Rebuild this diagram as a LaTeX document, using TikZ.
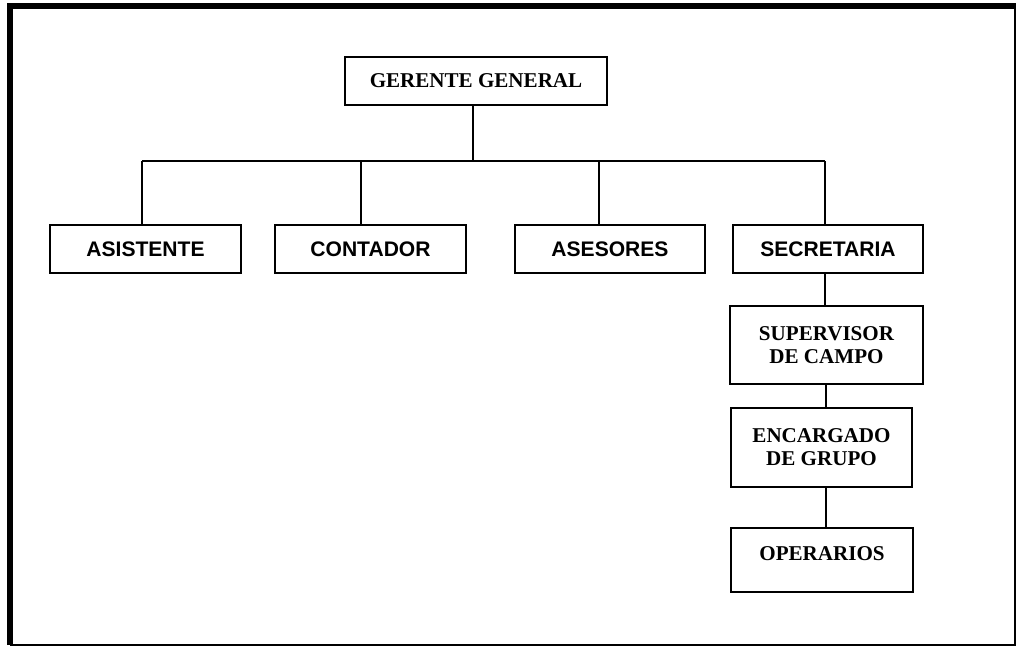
\documentclass[tikz,border=0pt]{standalone}
\usepackage{fontspec}
\newfontfamily\serifbold{Liberation Serif}
\newfontfamily\sansbold{Liberation Sans}
\begin{document}
\begin{tikzpicture}[x=0.75pt,y=-0.75pt,
  box/.style={draw=black,line width=1.5pt,rectangle,inner sep=0pt,align=center},
  rmbox/.style={box,font=\serifbold\bfseries\fontsize{15.8}{17.3}\selectfont},
  sfbox/.style={box,font=\sansbold\bfseries\fontsize{15.8}{17.3}\selectfont},
  link/.style={line width=1.5pt}]
\useasboundingbox (0,0) rectangle (1017,647);
% page frame: thin right and bottom, heavy top and left
\draw[line width=1.5pt] (10,645) -- (1015,645) -- (1015,6);
\draw[line width=4.5pt] (10,645) -- (10,6) -- (1016,6);

% boxes
\node[rmbox,minimum width=262*0.75pt,minimum height=48*0.75pt] (gg) at (476,81) {GERENTE GENERAL};
\node[sfbox,minimum width=191*0.75pt,minimum height=48*0.75pt] (asis) at (145.5,249) {ASISTENTE};
\node[sfbox,minimum width=191*0.75pt,minimum height=48*0.75pt] (cont) at (370.5,249) {CONTADOR};
\node[sfbox,minimum width=190*0.75pt,minimum height=48*0.75pt] (ases) at (610,249) {ASESORES};
\node[sfbox,minimum width=190*0.75pt,minimum height=48*0.75pt] (secr) at (828,249) {SECRETARIA};
\node[rmbox,minimum width=193*0.75pt,minimum height=78*0.75pt] (sup) at (826.5,345) {SUPERVISOR\\DE CAMPO};
\node[rmbox,minimum width=181*0.75pt,minimum height=79*0.75pt] (enc) at (821.5,447.5) {ENCARGADO\\DE GRUPO};
\node[rmbox,minimum width=182*0.75pt,minimum height=64*0.75pt,text height=10pt,text depth=10pt] (oper) at (822,560) {OPERARIOS};

% branch points on the horizontal bar
\coordinate (b1) at (142,161);
\coordinate (b2) at (361,161);
\coordinate (b3) at (599,161);
\coordinate (b4) at (825,161);
\coordinate (bg) at (473,161);

% connectors
\draw[link] (gg.south -| bg) -- (bg);
\draw[link] (b1) -- (b4);
\draw[link] (b1) -- (asis.north -| b1);
\draw[link] (b2) -- (cont.north -| b2);
\draw[link] (b3) -- (ases.north -| b3);
\draw[link] (b4) -- (secr.north -| b4);
\draw[link] (secr.south -| b4) -- (sup.north -| b4);
\draw[link] (sup.south -| 826,0) -- (enc.north -| 826,0);
\draw[link] (enc.south -| 826,0) -- (oper.north -| 826,0);
\end{tikzpicture}
\end{document}
